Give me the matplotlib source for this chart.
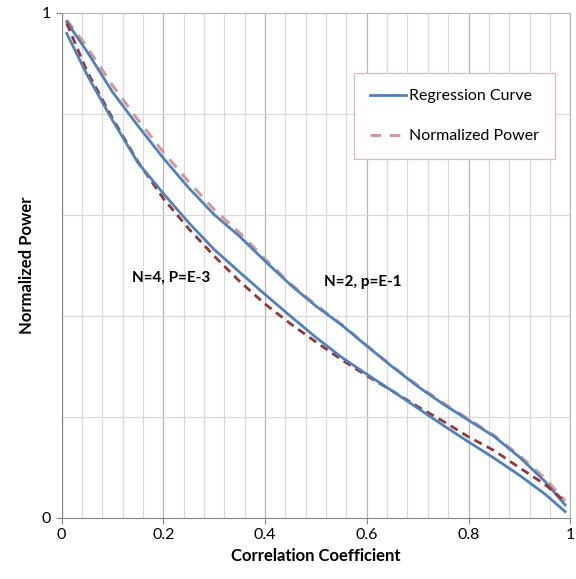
import matplotlib.pyplot as plt
from matplotlib.ticker import MultipleLocator, FixedLocator

plt.rcParams['font.family'] = ['Lato', 'DejaVu Sans']

# correlation coefficient samples
corr = [0.01, 0.05, 0.1, 0.15, 0.2, 0.25, 0.3, 0.35, 0.4, 0.45, 0.5,
        0.55, 0.6, 0.65, 0.7, 0.75, 0.8, 0.85, 0.9, 0.95, 0.99]

# N=2, p=E-1
reg_n2 = [0.982, 0.923, 0.843, 0.776, 0.712, 0.653, 0.600, 0.557, 0.508, 0.461, 0.419,
          0.382, 0.340, 0.299, 0.260, 0.225, 0.193, 0.161, 0.120, 0.072, 0.025]
pow_n2 = [0.986, 0.932, 0.856, 0.788, 0.724, 0.665, 0.610, 0.564, 0.512, 0.463, 0.421,
          0.383, 0.341, 0.300, 0.262, 0.227, 0.195, 0.163, 0.123, 0.078, 0.033]

# N=4, P=E-3
reg_n4 = [0.959, 0.877, 0.787, 0.703, 0.642, 0.584, 0.531, 0.486, 0.442, 0.399, 0.357,
          0.318, 0.284, 0.251, 0.217, 0.183, 0.150, 0.118, 0.084, 0.047, 0.012]
pow_n4 = [0.979, 0.884, 0.791, 0.705, 0.632, 0.572, 0.518, 0.468, 0.423, 0.384, 0.348,
          0.313, 0.281, 0.251, 0.220, 0.191, 0.160, 0.133, 0.099, 0.066, 0.032]

x_ticks = [0, 0.2, 0.4, 0.6, 0.8, 1]
x_labels = ['0', '0.2', '0.4', '0.6', '0.8', '1']
y_ticks = [0, 1]
y_labels = ['0', '1']

blue = '#4f81bd'
pink = '#d99694'
darkred = '#953735'

fig = plt.figure(figsize=(5.76, 5.79), dpi=100)
ax = fig.add_axes([0.107, 0.106, 0.883, 0.872])

ax.plot(corr, pow_n2, color=pink, lw=2.2, dashes=(3.5, 2.8), label='Normalized Power')
ax.plot(corr, reg_n2, color=blue, lw=2, label='Regression Curve')
ax.plot(corr, pow_n4, color=darkred, lw=2, dashes=(3, 2))
ax.plot(corr, reg_n4, color=blue, lw=2)

ax.set_xlim(0, 1)
ax.set_ylim(0, 1)
ax.xaxis.set_major_locator(FixedLocator(x_ticks))
ax.xaxis.set_minor_locator(MultipleLocator(0.04))
ax.yaxis.set_major_locator(FixedLocator(y_ticks))
ax.yaxis.set_minor_locator(MultipleLocator(0.2))
ax.set_xticklabels(x_labels)
ax.set_yticklabels(y_labels)

ax.grid(True, which='major', axis='x', color='#b5b5b5', lw=0.9)
ax.grid(True, which='minor', axis='x', color='#d9d9d9', lw=0.9)
ax.grid(True, which='minor', axis='y', color='#d9d9d9', lw=0.9)
ax.set_axisbelow(True)

for s in ['left', 'bottom']:
    ax.spines[s].set_color('#868686')
for s in ['top', 'right']:
    ax.spines[s].set_color('#b5b5b5')
ax.tick_params(which='major', length=4, color='#868686', labelsize=11.5)
ax.tick_params(which='minor', length=0)

ax.set_xlabel('Correlation Coefficient', fontsize=12, fontweight='bold', labelpad=4)
ax.set_ylabel('Normalized Power', fontsize=12, fontweight='bold', labelpad=5)

ax.text(0.215, 0.475, 'N=4, P=E-3', fontsize=11, fontweight='bold', ha='center', va='center')
ax.text(0.592, 0.467, 'N=2, p=E-1', fontsize=11, fontweight='bold', ha='center', va='center')

handles, labels = ax.get_legend_handles_labels()
leg = ax.legend(handles[::-1], labels[::-1], loc='upper left', bbox_to_anchor=(0.574, 0.880),
                fontsize=11.5, frameon=True, fancybox=False, framealpha=1,
                edgecolor='#e3b5b5', labelspacing=1.6, handlelength=2.3,
                handletextpad=0.2, borderpad=1.0, borderaxespad=0)
leg.get_frame().set_linewidth(0.9)

fig.savefig('out.png', dpi=100)
